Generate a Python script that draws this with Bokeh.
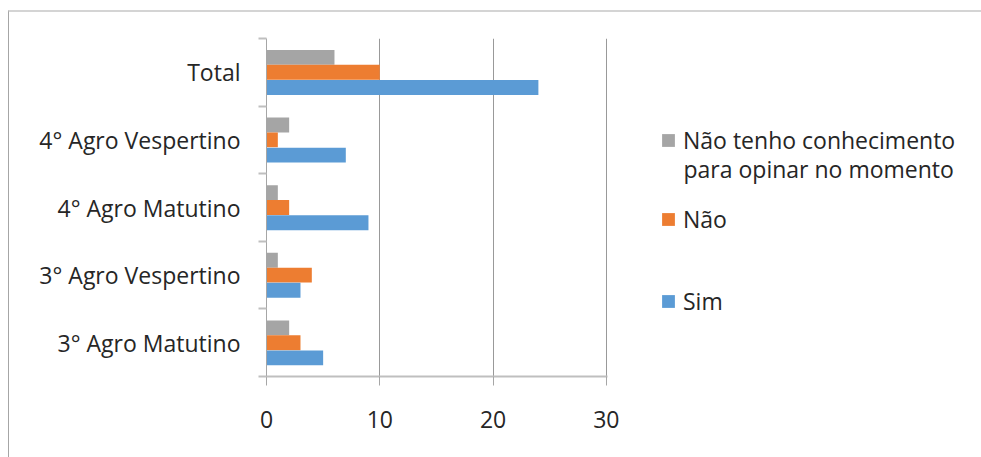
from bokeh.plotting import figure
from bokeh.layouts import row
from bokeh.models import (ColumnDataSource, Range1d, FixedTicker, Legend, LegendItem, Label)
from bokeh.transform import dodge
from bokeh.embed import file_html
from bokeh.resources import INLINE

# Survey answers per class group
categories = ["3° Agro Matutino", "3° Agro Vespertino", "4° Agro Matutino",
              "4° Agro Vespertino", "Total"]
sim = [5, 3, 9, 7, 24]
nao = [3, 4, 2, 1, 10]
sem_opiniao = [2, 1, 1, 2, 6]
x_ticks = [0, 10, 20, 30]

series = [
    ("sem", "Não tenho conhecimento", "#A5A5A5", 0.22),
    ("nao", "Não", "#ED7D31", 0.0),
    ("sim", "Sim", "#5B9BD5", -0.225),
]

FONT = "Open Sans"
TEXT_COLOR = "#262626"
FS = "23px"

positions = list(range(1, len(categories) + 1))
source = ColumnDataSource(dict(pos=positions, sim=sim, nao=nao, sem=sem_opiniao))

p = figure(width=611, height=445, output_backend="svg", toolbar_location=None,
           x_range=Range1d(0, 30.1), y_range=Range1d(0.5, len(categories) + 0.5),
           min_border_left=257, min_border_right=13, min_border_top=26,
           min_border_bottom=81)

bar_h = 0.22
for key, _, color, offset in series:
    p.hbar(y=dodge("pos", offset, range=p.y_range), right=key, left=0, height=bar_h,
           source=source, fill_color=color, line_color=None)

# axes
p.xaxis.ticker = FixedTicker(ticks=x_ticks, minor_ticks=[])
p.xaxis.major_tick_out = 9
p.xaxis.major_tick_in = 0
p.xaxis.major_tick_line_color = "#A6A6A6"
p.xaxis.axis_line_color = "#BFBFBF"
p.xaxis.axis_line_width = 2
p.xaxis.major_label_text_font = FONT
p.xaxis.major_label_text_font_size = FS
p.xaxis.major_label_text_color = TEXT_COLOR
p.xaxis.major_label_standoff = 25

boundaries = [c + 0.5 for c in range(0, len(categories) + 1)]
p.yaxis.ticker = FixedTicker(ticks=positions, minor_ticks=boundaries)
p.yaxis.major_label_overrides = {k: v for k, v in zip(positions, categories)}
p.yaxis.major_tick_out = 0
p.yaxis.major_tick_in = 0
p.yaxis.minor_tick_out = 8
p.yaxis.minor_tick_in = 0
p.yaxis.minor_tick_line_color = "#BFBFBF"
p.yaxis.minor_tick_line_width = 2
p.yaxis.axis_line_color = "#A6A6A6"
p.yaxis.major_label_text_font = FONT
p.yaxis.major_label_text_font_size = FS
p.yaxis.major_label_text_color = TEXT_COLOR
p.yaxis.major_label_standoff = 18

p.xgrid.ticker = FixedTicker(ticks=x_ticks)
p.xgrid.grid_line_color = "#999999"
p.ygrid.grid_line_color = None
p.outline_line_color = None
p.background_fill_color = "white"
p.border_fill_color = "white"

# legend panel: its own plot area, the bar renderers sit outside its visible range
leg_fig = figure(width=361, height=445, output_backend="svg", toolbar_location=None,
                 x_range=Range1d(-10, -9), y_range=Range1d(0.5, len(categories) + 0.5),
                 x_axis_location=None, y_axis_location=None, min_border=0)
leg_fig.grid.grid_line_color = None
leg_fig.outline_line_color = None
leg_fig.background_fill_color = "white"
leg_fig.border_fill_color = "white"

legend_spots = {"sem": 220, "nao": 141.5, "sim": 59.5}
for key, label, color, offset in series:
    r = leg_fig.hbar(y="pos", right=key, left=0, height=bar_h, source=source,
                     fill_color=color, line_color=None)
    leg = Legend(items=[LegendItem(label=label, renderers=[r])],
                 location=(40, legend_spots[key]), padding=0, margin=0, spacing=0,
                 border_line_color=None, background_fill_alpha=0,
                 glyph_width=16, glyph_height=16, label_standoff=7,
                 label_height=30, label_text_font=FONT, label_text_font_size=FS,
                 label_text_color=TEXT_COLOR)
    leg_fig.add_layout(leg)

leg_fig.add_layout(Label(x=63, y=208, x_units="screen", y_units="screen",
                         text="para opinar no momento", text_baseline="middle",
                         text_font=FONT, text_font_size=FS, text_color=TEXT_COLOR))

layout = row(p, leg_fig, spacing=0,
             styles={"margin-left": "8px", "margin-top": "10px",
                     "border-top": "2px solid #d4d4d4", "border-left": "1px solid #a6a6a6"})

open("out.html", "w").write(file_html(layout, INLINE))
